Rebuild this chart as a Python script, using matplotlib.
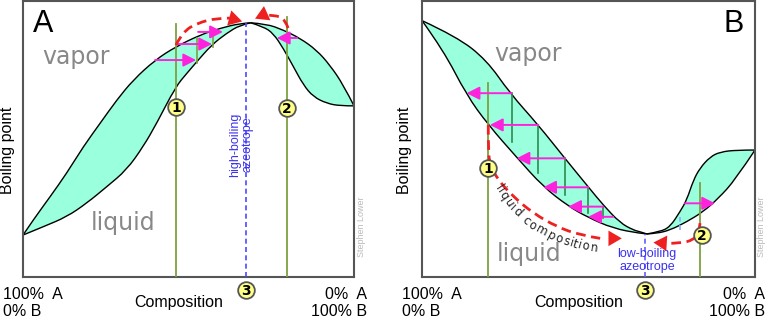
import matplotlib
matplotlib.use("Agg")
import matplotlib.pyplot as plt
import numpy as np
from matplotlib.path import Path
from matplotlib.patches import PathPatch
from matplotlib.font_manager import FontProperties, findfont
from matplotlib.ft2font import FT2Font

W, H = 777, 333

# ---- panel A: high-boiling azeotrope (composition %, boiling point arbitrary 0-100)
a_left_vap_c = [0, 3.1, 8.2, 13.2, 18.2, 23.3, 28.3, 33.3, 39.9, 46.1, 53.5, 59.5, 65.6, 68.8]
a_left_vap_t = [15.2, 20.7, 29.1, 37.6, 47.2, 55.7, 64.1, 71.4, 78.6, 83.4, 87.7, 90.1, 91.9, 92.1]
a_left_liq_c = [0, 6.1, 13.2, 19.2, 25.3, 31.3, 36.3, 40.4, 46.1, 49.5, 52.5, 57.0, 61.5, 65.6, 68.8]
a_left_liq_t = [15.2, 18.2, 21.8, 26.7, 32.7, 38.8, 47.2, 55.7, 68.9, 73.8, 78.0, 84.1, 88.3, 91.3, 92.1]
a_right_vap_c = [68.8, 73.6, 78.6, 83.7, 88.7, 92.7, 96.8, 100]
a_right_vap_t = [92.1, 91.7, 89.5, 86.5, 82.2, 76.8, 69.6, 62.0]
a_right_liq_c = [68.8, 72.6, 75.6, 78.6, 81.7, 84.7, 87.7, 91.8, 95.8, 100]
a_right_liq_t = [92.1, 90.7, 88.3, 82.9, 76.2, 69.6, 65.3, 62.9, 62.0, 62.0]
a_azeo_c = 67.4
a_start_c = [46.2, 79.8]          # starting compositions 1 and 2
a_start_top = [91.7, 94.2]
a_marker_t = [61.6, 61.2]
a_arrow_from = [39.9, 46.2, 52.9, 82.8]
a_arrow_to = [52.3, 57.1, 60.4, 76.7]
a_arrow_t = [78.6, 84.4, 88.8, 86.6]
a_tie_c = [52.6, 57.4]
a_tie_top = [86.7, 88.3]
a_tie_bot = [77.4, 83.4]
a_arc1_c = [46.2, 48.3, 52.6, 58.6, 62.5, 66.2]
a_arc1_t = [84.1, 88.8, 92.0, 93.8, 93.8, 92.6]
a_arc2_c = [80.1, 79.2, 76.7, 72.5, 70.1]
a_arc2_t = [90.2, 93.1, 94.9, 94.9, 93.6]

# ---- panel B: low-boiling azeotrope
b_left_vap_c = [0, 10.4, 19.4, 26.4, 34.9, 42.9, 49.9, 54.4, 59.5, 63.5, 65.5, 67.5]
b_left_vap_t = [92.9, 87.1, 78.6, 66.6, 55.1, 43.0, 32.7, 26.1, 19.6, 17.0, 16.4, 15.6]
b_left_liq_c = [0, 6.4, 13.4, 19.9, 28.4, 36.4, 43.9, 49.5, 57.4, 65.5, 67.5]
b_left_liq_t = [92.9, 82.2, 65.9, 55.1, 43.4, 32.7, 25.7, 21.8, 17.6, 15.8, 15.6]
b_right_vap_c = [67.5, 71.5, 74.5, 77.5, 79.5, 81.5, 83.5, 86.5, 89.5, 94.5, 100]
b_right_vap_t = [15.6, 16.4, 18.2, 23.7, 27.9, 35.1, 39.5, 43.5, 45.3, 46.0, 46.0]
b_right_liq_c = [67.5, 70.5, 74.5, 79.5, 84.5, 89.0, 94.0, 100]
b_right_liq_t = [15.6, 15.8, 17.0, 20.0, 23.7, 28.5, 35.1, 46.0]
b_azeo_c = 67.0
b_azeo_t = 15.6
b_start_c = [19.9, 83.5]
b_start_top = [70.4, 34.1]
b_marker_c = [19.9, 84.0]
b_marker_t = [39.4, 15.2]
b_arrow_from = [26.9, 34.9, 42.9, 49.9, 54.4, 57.4, 79.0]
b_arrow_to = [13.4, 20.4, 28.4, 36.4, 43.9, 49.9, 88.0]
b_arrow_t = [66.6, 55.1, 43.0, 32.5, 25.5, 21.8, 26.7]
b_tie_c = [26.9, 34.9, 42.9, 49.9, 54.4]
b_tie_top = [66.6, 55.1, 43.0, 32.5, 25.5]
b_tie_bot = [49.0, 37.6, 29.7, 23.1, 21.3]
b_arc1_c = [19.9, 19.9, 20.4, 22.9, 27.4, 33.4, 40.5, 47.4, 53.5, 60.0]
b_arc1_t = [55.1, 46.0, 40.6, 35.1, 29.1, 23.1, 18.2, 15.2, 14.0, 14.0]
b_arc2_c = [83.5, 83.2, 81.5, 77.5, 73.5, 69.5]
b_arc2_t = [19.5, 16.3, 13.4, 12.2, 12.2, 12.5]
b_text_c = [22.8, 26.7, 32.6, 40.0, 47.4, 52.9]
b_text_t = [33.0, 25.8, 19.0, 14.2, 11.4, 10.4]

FILL = "#99ffdc"
OLIVE = "#7da040"
TIE = "#2e8a50"
PINK = "#ff22dd"
RED = "#ee2020"
BLUE = "#3b33ee"
SANS = "Liberation Sans"

fig = plt.figure(figsize=(W / 100, H / 100), dpi=100)


def px_axes(x0, x1, y0, y1):
    ax = fig.add_axes([x0 / W, 1 - y1 / H, (x1 - x0) / W, (y1 - y0) / H])
    ax.set_xlim(0, 100)
    ax.set_ylim(0, 100)
    ax.set_xticks([])
    ax.set_yticks([])
    for s in ax.spines.values():
        s.set_color("#555555")
        s.set_linewidth(1.5)
    return ax


def smooth_path(cs, ts, start=True):
    # quadratic bezier pieces through the midpoints, read points act as controls
    p = np.column_stack([cs, ts])
    verts, codes = [p[0]], [Path.MOVETO if start else Path.LINETO]
    for i in range(1, len(p) - 1):
        mid = (p[i] + p[i + 1]) / 2 if i < len(p) - 2 else p[i + 1]
        verts += [p[i], mid]
        codes += [Path.CURVE3, Path.CURVE3]
    if len(p) == 2:
        verts.append(p[1])
        codes.append(Path.LINETO)
    return verts, codes


def lens(ax, c1, t1, c2, t2):
    v1, k1 = smooth_path(c1, t1)
    v2, k2 = smooth_path(c2[::-1], t2[::-1], start=False)
    ax.add_patch(PathPatch(Path(v1 + v2, k1 + k2), fc=FILL, lw=0, zorder=1))
    for c, t in [(c1, t1), (c2, t2)]:
        v, k = smooth_path(c, t)
        ax.add_patch(PathPatch(Path(v, k), fc="none", ec="black", lw=1, zorder=2))


def arrow(ax, x0, x1, y, color=PINK, lw=1.4):
    ax.annotate("", xy=(x1, y), xytext=(x0, y),
                arrowprops=dict(arrowstyle="-|>,head_length=0.55,head_width=0.28",
                                color=color, lw=lw, mutation_scale=14,
                                shrinkA=0, shrinkB=0), zorder=4)


def red_arc(ax, cs, ts):
    v, k = smooth_path(cs[:-1], ts[:-1])
    ax.add_patch(PathPatch(Path(v, k), fc="none", ec=RED, lw=2,
                           ls=(0, (3.5, 2)), zorder=5))
    ax.annotate("", xy=(cs[-1], ts[-1]), xytext=(cs[-2], ts[-2]),
                arrowprops=dict(arrowstyle="-|>,head_length=0.6,head_width=0.35",
                                color=RED, lw=0, mutation_scale=16,
                                shrinkA=0, shrinkB=0), zorder=5)


def marker(ax, c, t, label):
    ax.plot([c], [t], "o", ms=12, mfc="#ffff88", mec="#555555", mew=1.3,
            zorder=6, clip_on=False)
    ax.text(c, t - 0.3, label, ha="center", va="center", fontsize=10,
            fontweight="bold", family="DejaVu Sans", zorder=7, clip_on=False)


def text_on_path(ax, text, cs, ts, size, color):
    pts = ax.transData.transform(np.column_stack([cs, ts]))
    seg = np.hypot(*np.diff(pts, axis=0).T)
    cum = np.concatenate([[0], np.cumsum(seg)])
    fp = FontProperties(family="DejaVu Sans", size=size)
    font = FT2Font(findfont(fp))
    font.set_size(size, 100)
    adv = np.array([font.load_char(ord(ch)).linearHoriAdvance / 65536 for ch in text])
    adv = adv * cum[-1] / adv.sum()
    centers = np.cumsum(adv) - adv / 2
    inv = ax.transData.inverted()
    for ch, s in zip(text, centers):
        x = np.interp(s, cum, pts[:, 0])
        y = np.interp(s, cum, pts[:, 1])
        i = max(min(np.searchsorted(cum, s), len(seg)) - 1, 0)
        d = pts[i + 1] - pts[i]
        ang = np.degrees(np.arctan2(d[1], d[0]))
        xd, yd = inv.transform((x, y))
        ax.text(xd, yd, ch, rotation=ang, rotation_mode="anchor", ha="center",
                va="center", fontsize=size, color=color, family="DejaVu Sans",
                zorder=5)


# ================= panel A =================
axA = px_axes(23, 354, 1, 277)
lens(axA, a_left_vap_c, a_left_vap_t, a_left_liq_c, a_left_liq_t)
lens(axA, a_right_vap_c, a_right_vap_t, a_right_liq_c, a_right_liq_t)
for c, top in zip(a_start_c, a_start_top):
    axA.plot([c, c], [0, top], color=OLIVE, lw=1.3, zorder=3)
for c, t0, t1 in zip(a_tie_c, a_tie_top, a_tie_bot):
    axA.plot([c, c], [t1, t0], color=OLIVE, lw=1.2, zorder=3)
for x0, x1, y in zip(a_arrow_from, a_arrow_to, a_arrow_t):
    arrow(axA, x0, x1, y)
axA.plot([a_azeo_c, a_azeo_c], [0, 92], color="#4a4aff", lw=1.2, ls=(0, (3, 2)), zorder=3)
red_arc(axA, a_arc1_c, a_arc1_t)
red_arc(axA, a_arc2_c, a_arc2_t)
for c, t, lab in zip(a_start_c, a_marker_t, ["1", "2"]):
    marker(axA, c, t, lab)
marker(axA, a_azeo_c, -4.7, "3")
axA.text(a_azeo_c - 1.5, 48, "high-boiling\nazeotrope", rotation=90, ha="center",
         va="center", fontsize=9, color=BLUE, family=SANS, linespacing=1.0, zorder=4)
axA.text(16.0, 79.7, "vapor", ha="center", va="center", fontsize=17,
         color="#888888", family="DejaVu Sans")
axA.text(30.2, 19.6, "liquid", ha="center", va="center", fontsize=17,
         color="#888888", family="DejaVu Sans")

# ================= panel B =================
axB = px_axes(422, 755, 1, 277)
lens(axB, b_left_vap_c, b_left_vap_t, b_left_liq_c, b_left_liq_t)
lens(axB, b_right_vap_c, b_right_vap_t, b_right_liq_c, b_right_liq_t)
for c, top in zip(b_start_c, b_start_top):
    axB.plot([c, c], [0, top], color=OLIVE, lw=1.3, zorder=3)
for c, t0, t1 in zip(b_tie_c, b_tie_top, b_tie_bot):
    axB.plot([c, c], [t1, t0], color=TIE, lw=1.2, zorder=3)
for x0, x1, y in zip(b_arrow_from, b_arrow_to, b_arrow_t):
    arrow(axB, x0, x1, y)
axB.plot([77.5, 77.5], [17.0, 21.8], color="#88aaff", lw=1.2, ls=(0, (3, 2)), zorder=3)
axB.plot([b_azeo_c, b_azeo_c], [0, b_azeo_t], color="#6a5aff", lw=1.2,
         ls=(0, (3, 2)), zorder=3)
red_arc(axB, b_arc1_c, b_arc1_t)
red_arc(axB, b_arc2_c, b_arc2_t)
for c, t, lab in zip(b_marker_c, b_marker_t, ["1", "2"]):
    marker(axB, c, t, lab)
marker(axB, b_azeo_c, -4.7, "3")
axB.text(67.6, 6.0, "low-boiling\nazeotrope", ha="center", va="center",
         fontsize=9, color=BLUE, family=SANS, linespacing=1.15, zorder=4)
axB.text(31.7, 80.8, "vapor", ha="center", va="center", fontsize=17,
         color="#888888", family="DejaVu Sans")
axB.text(32.1, 8.3, "liquid", ha="center", va="center", fontsize=17,
         color="#888888", family="DejaVu Sans")
text_on_path(axB, "liquid composition", b_text_c, b_text_t, 8.5, "#222222")

# ================= shared labels =================
for letter, lx in [("A", 33), ("B", 723)]:
    fig.text(lx / W, 1 - 32 / H, letter, fontsize=22, family=SANS, va="baseline")
for xb, xc, xl, xr, xs in [(8, 179, 3, 367, 362), (405, 579, 402, 765, 761)]:
    fig.text(xb / W, 1 - 150 / H, "Boiling point", rotation=90, ha="center",
             va="center", fontsize=11.5, family=SANS)
    fig.text(xc / W, 1 - 303 / H, "Composition", ha="center", va="center",
             fontsize=11.5, family=SANS)
    fig.text(xl / W, 1 - 287 / H, "100%  A\n0% B", ha="left", va="top",
             fontsize=11.5, family=SANS, linespacing=1.15)
    fig.text(xr / W, 1 - 287 / H, "0%  A\n100% B", ha="right", va="top",
             fontsize=11.5, family=SANS, linespacing=1.15, multialignment="right")
    fig.text(xs / W, 1 - 227 / H, "Stephen Lower", rotation=90, ha="center",
             va="center", fontsize=6.5, family=SANS, color="#bbbbbb")

fig.savefig("out.png", dpi=100)
